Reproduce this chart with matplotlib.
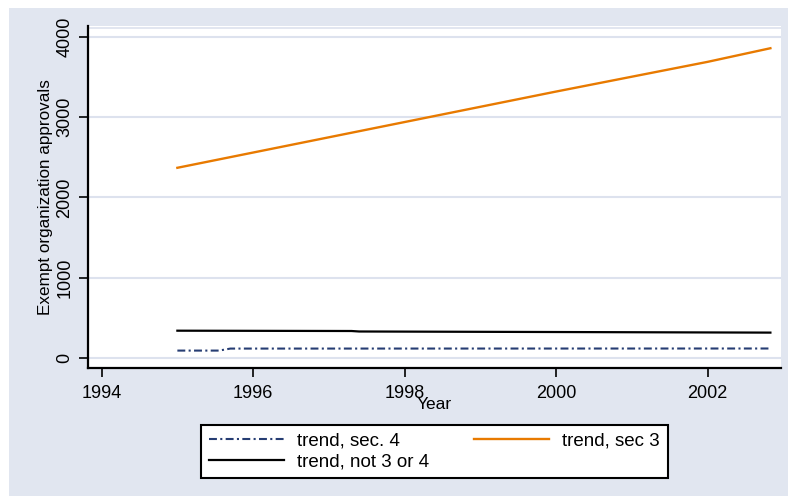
"""
Exempt organization approvals: trend lines by section, 1995-2002.
"""
import matplotlib
matplotlib.use("Agg")
import matplotlib.pyplot as plt
from matplotlib.patches import Rectangle

plt.rcParams['font.family'] = ['Liberation Sans', 'DejaVu Sans']

# values
sec3_years = [1995.0, 1996.0, 1997.0, 1998.0, 1999.0, 2000.0, 2001.0, 2002.0, 2002.83]
sec3_vals = [2370, 2560, 2750, 2940, 3130, 3320, 3505, 3690, 3860]

sec4_years = [1995.0, 1995.55, 1995.7, 2002.83]
sec4_vals = [92, 92, 117, 118]

other_years = [1995.0, 1997.3, 1997.4, 2002.83]
other_vals = [340, 336, 330, 316]

x_ticks = [1994, 1996, 1998, 2000, 2002]
y_ticks = [0, 1000, 2000, 3000, 4000]

bg = '#E1E6F0'
grid_col = '#DDE2EE'
navy = '#263D73'
orange = '#E87A00'

fig = plt.figure(figsize=(7.88, 4.96), dpi=100, facecolor='white')
# stata style graph region, offset a little from the top-left corner
fig.patches.append(Rectangle((9 / 788, 0), 1, 1 - 8 / 496, transform=fig.transFigure,
                             facecolor=bg, edgecolor='none', zorder=-10))

ax = fig.add_axes([88 / 788, 1 - 368 / 496, (781 - 88) / 788, (368 - 26) / 496])
ax.set_facecolor('white')

ax.plot(sec4_years, sec4_vals, color=navy, lw=1.5, dashes=[3.8, 1.6, 1.0, 1.6],
        label='trend, sec. 4')
ax.plot(other_years, other_vals, color='black', lw=1.6, label='trend, not 3 or 4')
ax.plot(sec3_years, sec3_vals, color=orange, lw=1.7, label='trend, sec 3')

ax.set_xlim(1993.82, 2002.97)
ax.set_ylim(-125, 4137)
ax.set_xticks(x_ticks)
ax.set_yticks(y_ticks)
ax.yaxis.grid(True, color=grid_col, lw=1.5)
ax.axhline(4112, color=grid_col, lw=1.2, zorder=0)
ax.set_axisbelow(True)

for side in ('top', 'right'):
    ax.spines[side].set_visible(False)
for side in ('left', 'bottom'):
    ax.spines[side].set_linewidth(1.6)

ax.tick_params(axis='both', length=6.5, width=1.2, colors='black', labelsize=13)
ax.tick_params(axis='x', pad=6)
ax.tick_params(axis='y', pad=4)
for lbl in ax.get_yticklabels():
    lbl.set_rotation(90)
    lbl.set_va('center')

ax.set_xlabel('Year', fontsize=12.5, labelpad=-4)
ax.set_ylabel('Exempt organization approvals', fontsize=12.3)
ax.yaxis.set_label_coords(-0.051, 0.5)

handles, labels = ax.get_legend_handles_labels()
leg = fig.legend(handles, labels, loc='center', bbox_to_anchor=(434.5 / 788, 1 - 451.5 / 496),
                 ncol=2, fontsize=13.5, frameon=True, fancybox=False, edgecolor='black',
                 facecolor='white', framealpha=1,
                 handlelength=4.0, handletextpad=0.7, columnspacing=2.4,
                 labelspacing=0.2, borderpad=0.4)
leg.get_frame().set_linewidth(1.5)

fig.savefig('out.png', dpi=100, facecolor='white')
